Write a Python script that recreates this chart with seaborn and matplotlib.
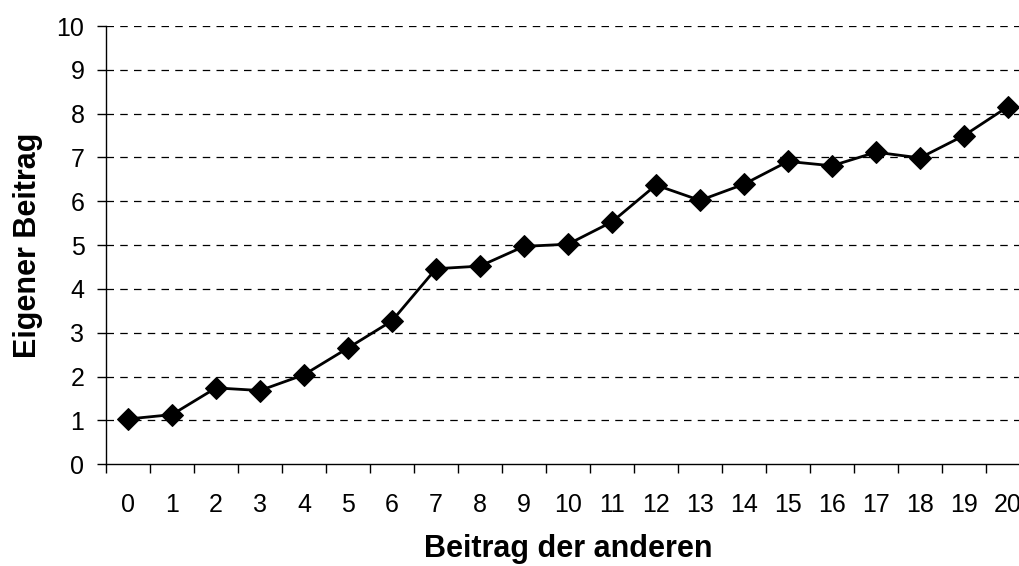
import numpy as np
import pandas as pd
import seaborn as sns
from matplotlib import pyplot as plt
from matplotlib.ticker import FixedLocator

beitrag_andere = list(range(21))
eigener_beitrag = [1.03, 1.13, 1.74, 1.68, 2.04, 2.65, 3.27, 4.46, 4.52, 4.97, 5.02,
                   5.53, 6.37, 6.02, 6.39, 6.91, 6.81, 7.12, 6.99, 7.50, 8.16]
y_ticks = list(range(11))

df = pd.DataFrame({'andere': beitrag_andere, 'eigen': eigener_beitrag})

sns.set_theme(style="white")
plt.rcParams['font.family'] = ['Liberation Sans', 'DejaVu Sans']
plt.rcParams['text.color'] = 'black'
plt.rcParams['xtick.color'] = 'black'
plt.rcParams['ytick.color'] = 'black'
plt.rcParams['axes.labelcolor'] = 'black'

fig = plt.figure(figsize=(10.2, 5.66), dpi=100)
# plot area runs slightly past the right edge, as in the original
ax = fig.add_axes([0.1039, 0.180, 0.9059, 0.774])

sns.lineplot(data=df, x='andere', y='eigen', ax=ax, color='black', linewidth=2,
             marker='D', markersize=11, markeredgecolor='black', markerfacecolor='black')

ax.set_xlim(-0.5, 20.5)
ax.set_ylim(0, 10)
ax.set_yticks(y_ticks)
for t in y_ticks[1:]:
    ax.axhline(t, color='black', linestyle=(0, (6, 5)), linewidth=0.9, zorder=0)

ax.xaxis.set_major_locator(FixedLocator(np.arange(-0.5, 21, 1)))
ax.xaxis.set_minor_locator(FixedLocator(beitrag_andere))
ax.set_xticklabels([])
ax.set_xticklabels([str(v) for v in beitrag_andere], minor=True)
ax.tick_params(axis='x', which='major', direction='out', length=6.5, width=1, bottom=True)
ax.tick_params(axis='x', which='minor', length=0, pad=21, labelsize=18)
ax.tick_params(axis='y', direction='out', length=6.5, width=1, left=True,
               labelsize=18, pad=9)

for side in ['top', 'right']:
    ax.spines[side].set_visible(False)
for side in ['left', 'bottom']:
    ax.spines[side].set_color('black')
    ax.spines[side].set_linewidth(1)

ax.set_xlabel('Beitrag der anderen', fontsize=22, fontweight='bold', labelpad=12)
ax.set_ylabel('Eigener Beitrag', fontsize=22, fontweight='bold', labelpad=10)

plt.savefig('out.png', dpi=100)
plt.close()
